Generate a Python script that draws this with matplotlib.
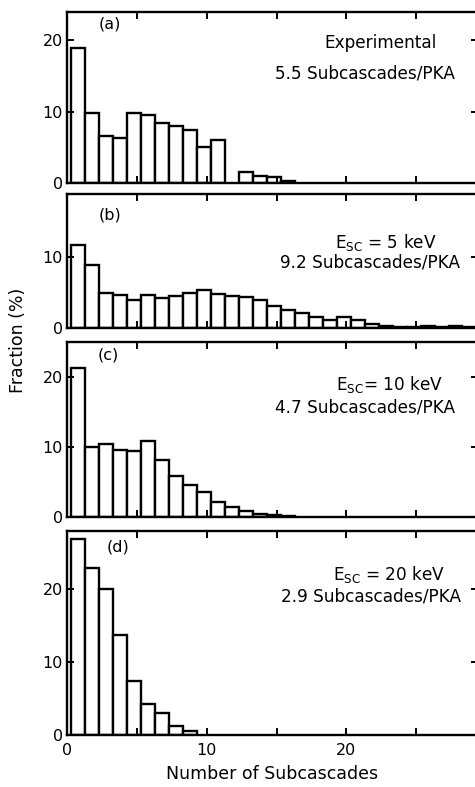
import matplotlib
matplotlib.use('agg')
from matplotlib import pyplot as plt
from matplotlib.ticker import MultipleLocator
import numpy as np

# fraction (%) of PKAs producing n subcascades, n = 1, 2, 3, ...
frac_exp = [18.9, 9.8, 6.6, 6.3, 9.8, 9.6, 8.4, 8.0, 7.4, 5.0, 6.0, 0.0, 1.5, 1.0, 0.8, 0.3]
frac_5kev = [11.8, 8.9, 5.0, 4.7, 4.0, 4.7, 4.2, 4.5, 5.0, 5.4, 4.8, 4.5, 4.4, 4.0, 3.1,
             2.6, 2.2, 1.5, 1.2, 1.5, 1.2, 0.6, 0.3, 0.2, 0.15, 0.3, 0.2, 0.25, 0.1]
frac_10kev = [21.3, 10.0, 10.4, 9.6, 9.4, 10.8, 8.2, 5.9, 4.5, 3.6, 2.1, 1.4, 0.8, 0.4, 0.3, 0.2]
frac_20kev = [26.9, 22.9, 20.0, 13.7, 7.4, 4.2, 3.0, 1.2, 0.6]

panel_tags = ['(a)', '(b)', '(c)', '(d)']
label_top = ['Experimental', r'E$_{\mathrm{SC}}$ = 5 keV', r'E$_{\mathrm{SC}}$= 10 keV', r'E$_{\mathrm{SC}}$ = 20 keV']
label_mean = ['5.5 Subcascades/PKA', '9.2 Subcascades/PKA', '4.7 Subcascades/PKA', '2.9 Subcascades/PKA']
series = [frac_exp, frac_5kev, frac_10kev, frac_20kev]

# layout (figure fractions) and text baselines (axes fractions) per panel
boxes = [(0.141, 0.7675, 0.865, 0.2173),
         (0.141, 0.5832, 0.865, 0.1703),
         (0.141, 0.3431, 0.865, 0.2224),
         (0.141, 0.0661, 0.865, 0.2592)]
ymaxes = [24, 19, 25, 28]
yticks = [[0, 10, 20], [0, 10], [0, 10, 20], [0, 10, 20]]
tag_pos = [(0.105, 0.93), (0.105, 0.84), (0.10, 0.925), (0.125, 0.92)]
top_pos = [(0.90, 0.79), (0.90, 0.60), (0.915, 0.726), (0.92, 0.76)]
mean_pos = [(0.944, 0.612), (0.956, 0.455), (0.944, 0.596), (0.96, 0.653)]

plt.rcParams['font.family'] = ['DejaVu Sans']
fig = plt.figure(figsize=(4.75, 7.87), dpi=100)

for i in range(4):
    ax = fig.add_axes(boxes[i])
    vals = np.array(series[i])
    n = np.arange(1, len(vals) + 1)
    keep = vals > 0
    ax.bar(n[keep] - 0.2, vals[keep], width=1.0, color='white',
           edgecolor='black', linewidth=1.7)
    ax.set_xlim(0, 29.4)
    ax.set_ylim(0, ymaxes[i])
    ax.set_yticks(yticks[i])
    ax.xaxis.set_major_locator(MultipleLocator(10))
    ax.xaxis.set_minor_locator(MultipleLocator(5))
    ax.tick_params(which='both', direction='in', top=True, right=True,
                   length=5, width=1.4, labelsize=11.5, pad=3)
    ax.tick_params(axis='x', pad=6)
    if i < 3:
        ax.tick_params(axis='x', labelbottom=False)
    for s in ax.spines.values():
        s.set_linewidth(1.7)
    ax.text(tag_pos[i][0], tag_pos[i][1], panel_tags[i], transform=ax.transAxes,
            ha='center', va='center', fontsize=11.5)
    ax.text(top_pos[i][0], top_pos[i][1], label_top[i], transform=ax.transAxes,
            ha='right', va='baseline', fontsize=12.2)
    ax.text(mean_pos[i][0], mean_pos[i][1], label_mean[i], transform=ax.transAxes,
            ha='right', va='baseline', fontsize=12.2)
    if i == 3:
        ax.set_xlabel('Number of Subcascades', fontsize=12.5, labelpad=5)

fig.text(0.038, 0.568, 'Fraction (%)', rotation=90, ha='center', va='center', fontsize=12.5)

plt.savefig('out.png', dpi=100)
plt.close()
